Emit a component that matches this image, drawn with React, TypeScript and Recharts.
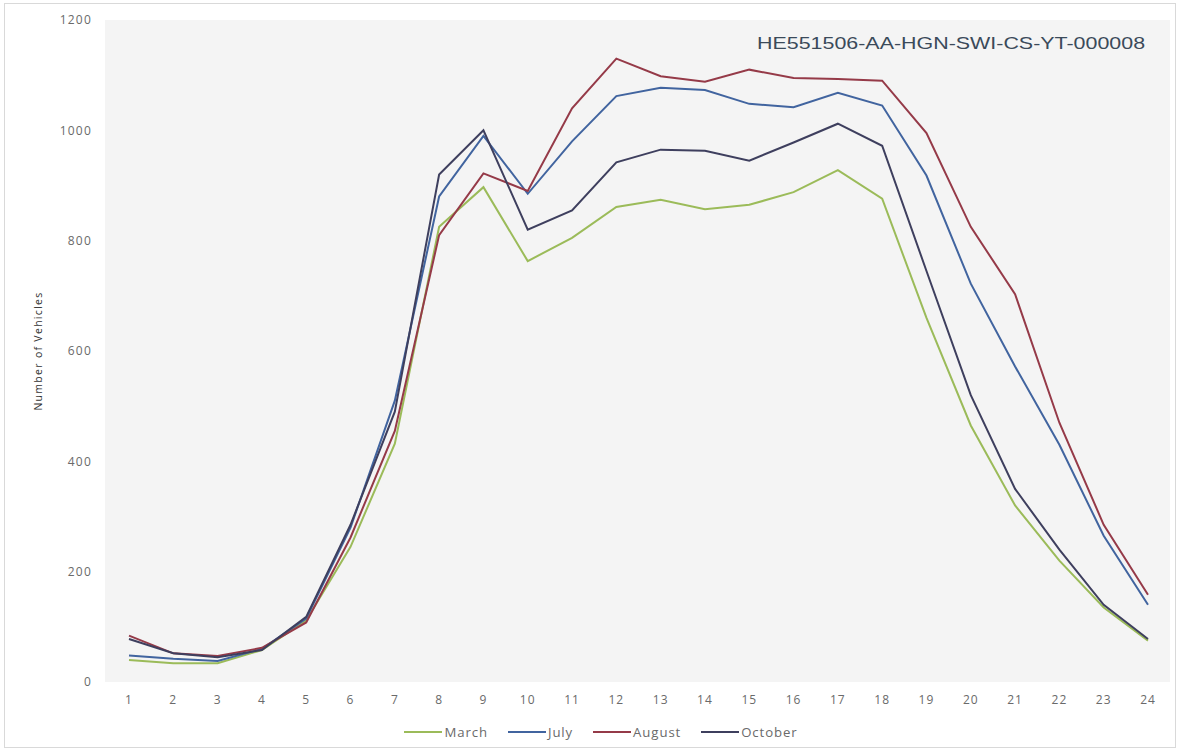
import React from "react";
import { LineChart, Line, XAxis, YAxis, CartesianGrid, Legend } from "recharts";

const hours = ["1","2","3","4","5","6","7","8","9","10","11","12","13","14","15","16","17","18","19","20","21","22","23","24"];
const march = [40, 34, 34, 58, 112, 245, 432, 825, 897, 763, 805, 861, 874, 857, 865, 888, 928, 876, 660, 465, 320, 220, 135, 75];
const july = [48, 42, 38, 60, 115, 280, 510, 880, 990, 885, 980, 1062, 1077, 1073, 1048, 1042, 1068, 1045, 918, 722, 572, 430, 265, 140];
const august = [84, 52, 47, 62, 108, 262, 455, 810, 922, 890, 1040, 1130, 1098, 1088, 1110, 1095, 1093, 1090, 995, 825, 703, 470, 285, 158];
const october = [78, 52, 45, 58, 118, 285, 490, 920, 1000, 820, 855, 942, 965, 963, 945, 978, 1012, 972, 745, 520, 350, 240, 140, 78];
const yTicks = [0, 200, 400, 600, 800, 1000, 1200];

const seriesInfo = [
  { key: "March", color: "#9BBB59" },
  { key: "July", color: "#41649F" },
  { key: "August", color: "#953A48" },
  { key: "October", color: "#3E3F5E" },
];

const data = hours.map((h, i) => ({
  hour: h,
  March: march[i],
  July: july[i],
  August: august[i],
  October: october[i],
}));

const font = "'Open Sans', Lato, sans-serif";

const LegendContent = () => (
  <div style={{ display: "flex", justifyContent: "center", alignItems: "center", paddingTop: 11, paddingLeft: 52, fontFamily: font, fontSize: 13.2, letterSpacing: 0.9, color: "#6a6a6a" }}>
    {seriesInfo.map((s) => (
      <div key={s.key} style={{ display: "flex", alignItems: "center", marginRight: 20 }}>
        <div style={{ width: 38, height: 2, background: s.color, marginRight: 2 }} />
        <span>{s.key}</span>
      </div>
    ))}
  </div>
);

export default function App() {
  return (
    <div style={{ position: "absolute", left: 0, top: 0, width: 1181, height: 754, background: "#fff" }}>
      <div style={{ position: "absolute", left: 4, top: 3, width: 1172, height: 745, border: "1px solid #d9d9d9", boxSizing: "border-box" }} />
      <LineChart width={1181} height={754} data={data} margin={{ top: 20, right: 11, bottom: 0, left: 0 }}>
        <CartesianGrid fill="#f4f4f4" stroke="none" horizontal={false} vertical={false} />
        <XAxis
          dataKey="hour"
          axisLine={false}
          tickLine={false}
          height={30}
          padding={{ left: 24, right: 22 }}
          tick={{ fill: "#6a6a6a", fontSize: 12, fontFamily: font, letterSpacing: 1 }}
          tickMargin={7}
          interval={0}
        />
        <YAxis
          domain={[0, 1200]}
          ticks={yTicks}
          width={105}
          axisLine={false}
          tickLine={false}
          tickMargin={7}
          tick={{ fill: "#6a6a6a", fontSize: 12, fontFamily: font, letterSpacing: 1.2 }}
          label={{ value: "Number of Vehicles", angle: -90, position: "insideLeft", offset: 38, style: { fill: "#333", fontSize: 10.5, fontFamily: font, letterSpacing: 1.3, textAnchor: "middle" } }}
        />
        <Legend verticalAlign="bottom" height={42} content={<LegendContent />} />
        {seriesInfo.map((s) => (
          <Line key={s.key} type="linear" dataKey={s.key} stroke={s.color} strokeWidth={2} dot={false} isAnimationActive={false} />
        ))}
      </LineChart>
      <div style={{ position: "absolute", left: 757, top: 34, fontFamily: "'Liberation Sans', Arial, sans-serif", fontSize: 17, color: "#3b4a5a", transform: "scaleX(1.26)", transformOrigin: "left center", whiteSpace: "nowrap" }}>
        HE551506-AA-HGN-SWI-CS-YT-000008
      </div>
    </div>
  );
}
